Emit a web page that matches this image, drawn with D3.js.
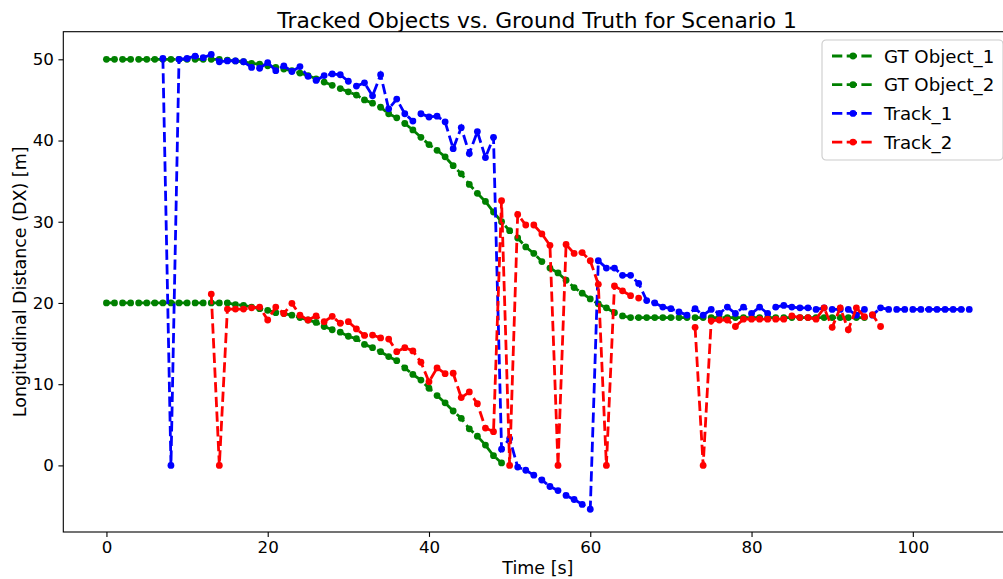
<!DOCTYPE html>
<html>
  <head>
    <script src="https://d3js.org/d3.v7.min.js"></script>
    <style>
      html, body {
        margin: 0;
        padding: 0;
        overflow: hidden;
        background: #fff;
      }
      svg text {
        font-family: "DejaVu Sans", sans-serif;
        fill: #000;
      }
    </style>
  </head>
  <body>
    <div id="chart"></div>
    <script>
      // Ground truth, one sample per second
      const gt1Start = 0;
      const gt1 = [50, 50, 50, 50, 50, 50, 50, 50, 50, 50, 50, 50, 50, 50, 50,
        49.9, 49.8, 49.7, 49.5, 49.4, 49.2, 49.0, 48.8, 48.6, 48.3, 48.0, 47.6, 47.2, 46.8, 46.4,
        46.0, 45.6, 45.0, 44.6, 44.1, 43.3, 42.8, 42.1, 41.3, 40.4, 39.5, 38.8, 38.0, 36.9, 35.9,
        34.6, 33.5, 32.5, 31.2, 30.0, 28.9, 28.0, 26.9, 26.1, 25.1, 24.3, 23.7, 22.8, 21.9, 21.2,
        20.5, 19.9, 19.4, 18.8, 18.4, 18.2, 18.2, 18.2, 18.2, 18.2, 18.2, 18.2, 18.2, 18.2, 18.2,
        18.2, 18.2, 18.2, 18.2, 18.2, 18.2, 18.2, 18.2, 18.2, 18.2, 18.2, 18.2, 18.2, 18.2, 18.2,
        18.2, 18.2, 18.2, 18.2, 18.2];

      const gt2Start = 0;
      const gt2 = [20, 20, 20, 20, 20, 20, 20, 20, 20, 20, 20, 20, 20, 20, 20, 20,
        19.8, 19.7, 19.5, 19.3, 19.1, 18.8, 18.7, 18.5, 18.2, 17.9, 17.6, 17.1, 16.7, 16.4,
        15.9, 15.6, 14.9, 14.5, 14.0, 13.4, 12.9, 12.0, 11.2, 10.5, 9.5, 8.6, 7.7, 6.7, 5.8,
        4.5, 3.6, 2.5, 1.2, 0.3];

      // Tracks (null = no track at that second)
      const track1Start = 7;
      const track1 = [50.1, 0, 50.0, 50.1, 50.4, 50.2, 50.6, 49.7, 49.8, 49.8, 49.7, 49.0, 48.9,
        49.6, 48.6, 49.2, 48.5, 49.1, 47.9, 47.4, 48.0, 48.2, 48.1, 47.3, 46.7, 47.1, 45.5, 48.1,
        43.9, 45.1, 43.3, 42.4, 43.3, 42.9, 43.0, 42.3, 39.0, 41.6, 38.4, 41.1, 37.9, 40.4,
        2.0, 3.3, -0.2, -0.6, -1.2, -1.8, -2.6, -3.1, -3.7, -4.2, -4.8, -5.4,
        25.2, 24.3, 24.3, 23.4, 23.4, 22.4, 20.3, 20.0, 19.5, 19.3, 18.9, 18.5, 19.3, 18.5,
        19.2, 18.7, 19.5, 18.7, 19.5, 18.7, 19.5, 18.7, 19.5, 19.7, 19.5, 19.4, 19.4, 19.2,
        19.4, 19.2, 19.2, 19.2, 18.5, 19.2, 18.5, 19.4,
        19.2, 19.2, 19.2, 19.2, 19.2, 19.2, 19.2, 19.2, 19.2, 19.2, 19.2];

      const track2Start = 13;
      const track2 = [21.1, 0, 19.25, 19.25, 19.25, 19.4, 19.5, 17.9, 19.5, 18.7, 19.95, 18.5,
        17.9, 18.4, 17.7, 18.35, 17.5, 17.7, 16.8, 16.0, 16.05, 15.7, 15.55, 14.0, 14.5, 14.1,
        12.7, 10.3, 12.0, 11.3, 11.35, 8.35, 9.05, 7.6, 4.6, 4.15,
        32.6, 0, 30.9, 29.6, 29.6, 28.5, 27.1, 0, 27.2, 26.1, 26.2, 25.2, 22.3, 0, 22.1, 21.5,
        20.9, 20.6, null, null, null, null, null, null,
        17.0, 0, 17.8, 17.9, 17.9, 17.1, 18.0, 18.0, 18.0, 18.0, 18.0, 18.0, 18.4, 18.2, 18.2,
        18.0, 19.4, 17.0, 19.4, 16.7, 19.4, 18.3, 18.55, 17.1];

      const seriesNames = ["GT Object_1", "GT Object_2", "Track_1", "Track_2"];
      const seriesColors = ["green", "green", "blue", "red"];
      const xTicks = [0, 20, 40, 60, 80, 100];
      const yTicks = [0, 10, 20, 30, 40, 50];

      const width = 1003, height = 579;
      const margin = { top: 31.7, left: 63.3, bottom: 47, right: -9.4 };

      const series = [
        { start: gt1Start, values: gt1 },
        { start: gt2Start, values: gt2 },
        { start: track1Start, values: track1 },
        { start: track2Start, values: track2 }
      ].map((s, i) => ({
        name: seriesNames[i],
        color: seriesColors[i],
        points: s.values.map((v, j) => ({ t: s.start + j, v: v }))
      }));

      const allPts = series.flatMap(s => s.points.filter(p => p.v !== null));
      const tExt = d3.extent(allPts, p => p.t);
      const vExt = d3.extent(allPts, p => p.v);
      const tPad = (tExt[1] - tExt[0]) * 0.05;
      const vPad = (vExt[1] - vExt[0]) * 0.05;

      const x = d3.scaleLinear()
        .domain([tExt[0] - tPad, tExt[1] + tPad])
        .range([margin.left, width - margin.right]);
      const y = d3.scaleLinear()
        .domain([vExt[0] - vPad, vExt[1] + vPad])
        .range([height - margin.bottom, margin.top]);

      const svg = d3.select("#chart")
        .append("svg")
        .attr("width", width)
        .attr("height", height);

      // axes
      const xAxis = svg.append("g")
        .attr("transform", `translate(0,${height - margin.bottom})`)
        .call(d3.axisBottom(x).tickValues(xTicks).tickSizeOuter(0).tickSize(4.9).tickPadding(4.5));
      const yAxis = svg.append("g")
        .attr("transform", `translate(${margin.left},0)`)
        .call(d3.axisLeft(y).tickValues(yTicks).tickSizeOuter(0).tickSize(4.9).tickPadding(4.5));
      [xAxis, yAxis].forEach(a => {
        a.select(".domain").remove();
        a.selectAll(".tick line").attr("stroke", "#000").attr("stroke-width", 1.1);
        a.selectAll(".tick text").style("font-size", "16.7px").attr("fill", "#000");
      });

      // frame
      svg.append("rect")
        .attr("x", margin.left)
        .attr("y", margin.top)
        .attr("width", width - margin.right - margin.left)
        .attr("height", height - margin.bottom - margin.top)
        .attr("fill", "none")
        .attr("stroke", "#000")
        .attr("stroke-width", 1.1);

      svg.append("clipPath").attr("id", "plot-clip")
        .append("rect")
        .attr("x", margin.left)
        .attr("y", margin.top)
        .attr("width", width - margin.right - margin.left)
        .attr("height", height - margin.bottom - margin.top);

      const line = d3.line()
        .defined(p => p.v !== null)
        .x(p => x(p.t))
        .y(p => y(p.v));

      const plot = svg.append("g").attr("clip-path", "url(#plot-clip)");

      series.forEach(s => {
        const g = plot.append("g");
        g.append("path")
          .datum(s.points)
          .attr("d", line)
          .attr("fill", "none")
          .attr("stroke", s.color)
          .attr("stroke-width", 2.8)
          .attr("stroke-dasharray", "10.3,4.4");
        g.selectAll("circle")
          .data(s.points.filter(p => p.v !== null))
          .enter()
          .append("circle")
          .attr("cx", p => x(p.t))
          .attr("cy", p => y(p.v))
          .attr("r", 3.4)
          .attr("fill", s.color);
      });

      // title and labels
      svg.append("text")
        .attr("x", (margin.left + 1003) / 2 + 4)
        .attr("y", 28)
        .attr("text-anchor", "middle")
        .style("font-size", "21.8px")
        .text("Tracked Objects vs. Ground Truth for Scenario 1");

      svg.append("text")
        .attr("x", (margin.left + width - margin.right) / 2)
        .attr("y", 574)
        .attr("text-anchor", "middle")
        .style("font-size", "17.5px")
        .text("Time [s]");

      svg.append("text")
        .attr("transform", `translate(26,${(margin.top + height - margin.bottom) / 2}) rotate(-90)`)
        .attr("text-anchor", "middle")
        .style("font-size", "17.5px")
        .text("Longitudinal Distance (DX) [m]");

      // legend
      const legend = svg.append("g").attr("transform", "translate(822,40)");
      legend.append("rect")
        .attr("width", 181)
        .attr("height", 120)
        .attr("rx", 4)
        .attr("fill", "#fff")
        .attr("fill-opacity", 0.8)
        .attr("stroke", "#ccc")
        .attr("stroke-width", 1.1);

      series.forEach((s, i) => {
        const row = legend.append("g").attr("transform", `translate(0,${16 + i * 28.7})`);
        row.append("line")
          .attr("x1", 10).attr("x2", 52)
          .attr("stroke", s.color)
          .attr("stroke-width", 2.8)
          .attr("stroke-dasharray", "10.3,4.4");
        row.append("circle")
          .attr("cx", 31)
          .attr("r", 3.4)
          .attr("fill", s.color);
        row.append("text")
          .attr("x", 62)
          .attr("dy", "0.36em")
          .style("font-size", "18.2px")
          .text(s.name);
      });
    </script>
  </body>
</html>
